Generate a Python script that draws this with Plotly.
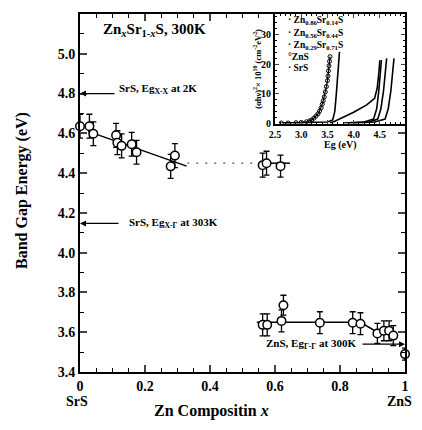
import plotly.graph_objects as go

# ---- main data (Zn composition x, band gap eV, error) ----
g1_x = [0.0, 0.029, 0.041, 0.111, 0.115, 0.128, 0.159, 0.174, 0.279, 0.292]
g1_e = [4.636, 4.636, 4.598, 4.59, 4.553, 4.537, 4.545, 4.505, 4.434, 4.488]
g1_err = [0.06, 0.06, 0.06, 0.06, 0.06, 0.06, 0.06, 0.06, 0.06, 0.06]

g2_x = [0.562, 0.574, 0.617]
g2_e = [4.44, 4.45, 4.435]
g2_err = [0.06, 0.06, 0.055]

g3_x = [0.562, 0.576, 0.62, 0.626, 0.738, 0.839, 0.863, 0.915, 0.935, 0.951, 0.964, 1.0]
g3_e = [3.637, 3.637, 3.657, 3.736, 3.648, 3.648, 3.643, 3.594, 3.607, 3.607, 3.583, 3.49]
g3_err = [0.055, 0.055, 0.055, 0.05, 0.055, 0.055, 0.055, 0.05, 0.05, 0.05, 0.05, 0.03]

fit1_x = [0.025, 0.328]
fit1_e = [4.61, 4.435]
dot_x = [0.33, 0.56]
dot_e = [4.45, 4.45]
fit2_x = [0.574, 0.646]
fit2_e = [4.45, 4.45]
fit3_x = [0.544, 0.863, 0.915, 0.965]
fit3_e = [3.65, 3.65, 3.6, 3.585]

# ---- inset data (Eg eV, (alpha h nu)^2 x 1e10) ----
zns_eg = [2.62, 2.75, 2.9, 3.0, 3.1, 3.16, 3.2, 3.24, 3.28, 3.32, 3.35, 3.38, 3.4, 3.42, 3.44, 3.46, 3.48, 3.5, 3.51, 3.52, 3.53, 3.54, 3.55]
zns_v = [0.2, 0.2, 0.3, 0.4, 0.6, 0.9, 1.2, 1.8, 2.5, 3.3, 4.2, 5.3, 6.5, 7.7, 9.0, 10.7, 12.5, 14.5, 16.0, 17.8, 19.5, 21.0, 22.6]
b_eg = [2.65, 3.2, 3.5, 3.6, 3.64, 3.67, 3.70, 3.73]
b_v = [0.2, 0.3, 0.5, 1.2, 4.0, 10.0, 17.0, 24.2]
c_eg = [3.55, 3.64, 4.0, 4.25, 4.40, 4.45, 4.48, 4.50]
c_v = [0.2, 0.8, 3.8, 6.3, 8.5, 12.0, 17.0, 21.4]
d_eg = [3.8, 4.2, 4.38, 4.44, 4.48, 4.51, 4.53]
d_v = [0.2, 0.5, 1.5, 5.0, 11.0, 17.0, 21.4]
e_eg = [3.9, 4.3, 4.46, 4.52, 4.57, 4.60, 4.63]
e_v = [0.2, 0.5, 1.5, 5.0, 11.0, 17.0, 22.0]
f_eg = [4.0, 4.4, 4.60, 4.66, 4.71, 4.74, 4.77]
f_v = [0.2, 0.5, 1.5, 5.0, 11.0, 17.0, 22.0]

legend_items = ["· Zn<sub>0.86</sub>Sr<sub>0.14</sub>S", "· Zn<sub>0.56</sub>Sr<sub>0.44</sub>S",
                "· Zn<sub>0.29</sub>Sr<sub>0.71</sub>S", "°ZnS", "· SrS"]

FONT = "Liberation Serif"
fig = go.Figure()

def pts(x, y, err):
    fig.add_trace(go.Scatter(
        x=x, y=y, mode="markers", cliponaxis=False,
        marker=dict(symbol="circle", size=8.5, color="white", line=dict(color="black", width=1.5)),
        error_y=dict(type="data", array=err, visible=True, color="black", thickness=1.3, width=3),
        showlegend=False))

def line(x, y, dash="solid", w=1.5, col="black", xa="x", ya="y"):
    fig.add_trace(go.Scatter(x=x, y=y, mode="lines", line=dict(color=col, width=w, dash=dash),
                             showlegend=False, xaxis=xa, yaxis=ya, cliponaxis=False))

line(fit1_x, fit1_e)
line(dot_x, dot_e, dash="2px,7px", w=1.2, col="#555")
line(fit2_x, fit2_e)
line(fit3_x, fit3_e)
pts(g1_x, g1_e, g1_err)
pts(g2_x, g2_e, g2_err)
pts(g3_x, g3_e, g3_err)

# inset curves
for ex, vv in [(b_eg, b_v), (c_eg, c_v), (d_eg, d_v), (e_eg, e_v), (f_eg, f_v)]:
    line(ex, vv, w=1.6, xa="x2", ya="y2")
fig.add_trace(go.Scatter(x=zns_eg, y=zns_v, mode="lines+markers", xaxis="x2", yaxis="y2",
                         line=dict(color="black", width=1.2),
                         marker=dict(symbol="circle-open", size=4, color="black", line=dict(width=1)),
                         showlegend=False))

ann = []
def txt(x, y, t, size, xref="paper", yref="paper", xanchor="center", angle=0, yanchor="middle"):
    ann.append(dict(x=x, y=y, xref=xref, yref=yref, text=t, showarrow=False, xanchor=xanchor,
                    yanchor=yanchor, textangle=angle,
                    font=dict(family=FONT, size=size, color="black", weight="bold")))

def arrow(x, y, axpx, t_x, t_y, t, xanchor):
    ann.append(dict(x=x, y=y, xref="x", yref="y", ax=axpx, ay=0, axref="pixel", ayref="pixel",
                    text="", showarrow=True, arrowhead=2, arrowsize=1, arrowwidth=1.2,
                    arrowcolor="black"))
    txt(t_x, t_y, t, 11, xref="x", yref="y", xanchor=xanchor)

arrow(0.0, 4.80, 36, 0.114, 4.825, "SrS, Eg<sub>X-X</sub> at 2K", "left")
arrow(0.0, 4.147, 40, 0.144, 4.15, "SrS, Eg<sub>X-Γ</sub> at 303K", "left")
arrow(1.0, 3.54, -44, 0.855, 3.54, "ZnS, Eg<sub>Γ-Γ</sub> at 300K", "right")

txt(0.228, 0.955, "Zn<sub><i>x</i></sub>Sr<sub>1-<i>x</i></sub>S, 300K", 15)
txt(-0.178, 0.506, "Band Gap Energy (eV)", 16, angle=-90)
txt(0.406, -0.108, "Zn Compositin <i>x</i>", 16)
txt(-0.009, -0.083, "SrS", 14)
txt(0.982, -0.083, "ZnS", 14)

# inset texts
leg_y = [19, 32, 43.5, 55, 66.5]
for t, ypx in zip(legend_items, leg_y):
    txt(0.634, (372 - ypx) / 360, t, 9.5, xanchor="left")
txt(0.548, 0.847, "(αhν)<sup>2</sup>× 10<sup>10</sup> (cm<sup>-2</sup>eV<sup>2</sup>)", 8.5, angle=-90)
txt(0.80, 0.634, "Eg (eV)", 10)

tickfont = dict(family=FONT, size=14, color="black", weight="bold")
# page body has an 8px margin: figure is sized/offset to compensate
fig.update_layout(
    width=406, height=414,
    margin=dict(l=72, r=9, t=4, b=50),
    paper_bgcolor="white", plot_bgcolor="white",
    font=dict(family=FONT, color="black"),
    annotations=ann,
    xaxis=dict(range=[0, 1], domain=[0, 1], tickvals=[0, 0.2, 0.4, 0.6, 0.8, 1.0],
               ticktext=["0", "0.2", "0.4", "0.6", "0.8", "1"], ticks="inside", ticklen=7,
               tickwidth=1.5, showline=True, linewidth=2, linecolor="black", mirror="allticks",
               showgrid=False, zeroline=False, tickfont=tickfont, automargin=False,
               minor=dict(dtick=0.05, ticks="inside", ticklen=4, tickwidth=1.2, tickcolor="black", showgrid=False)),
    yaxis=dict(range=[3.4, 5.2], domain=[0, 1], dtick=0.2, tickformat=".1f", ticks="inside",
               ticklen=7, tickwidth=1.5, showline=True, linewidth=2, linecolor="black",
               mirror="allticks", showgrid=False, zeroline=False, tickfont=tickfont, automargin=False,
               minor=dict(dtick=0.1, ticks="inside", ticklen=4, tickwidth=1.2, tickcolor="black", showgrid=False)),
    xaxis2=dict(range=[2.5, 4.98], domain=[0.6, 1.0], anchor="y2", tickvals=[2.5, 3.0, 3.5, 4.0, 4.5],
                ticktext=["2.5", "3.0", "3.5", "4.0", "4.5"], ticks="inside", ticklen=4, tickwidth=1.2,
                showline=True, linewidth=2, linecolor="black", mirror="allticks", showgrid=False,
                zeroline=False, tickfont=dict(family=FONT, size=10, color="black", weight="bold"),
                minor=dict(dtick=0.1, ticks="inside", ticklen=2, tickcolor="black", showgrid=False)),
    yaxis2=dict(range=[0, 37], domain=[0.694, 1.0], anchor="x2", tickvals=[0, 10, 20, 30],
                ticks="inside", ticklen=4, tickwidth=1.2, showline=True, linewidth=2,
                linecolor="black", mirror="allticks", showgrid=False, zeroline=False,
                tickfont=dict(family=FONT, size=10, color="black", weight="bold"),
                minor=dict(dtick=2, ticks="inside", ticklen=2, tickcolor="black", showgrid=False)),
)

fig.write_html("out.html")
